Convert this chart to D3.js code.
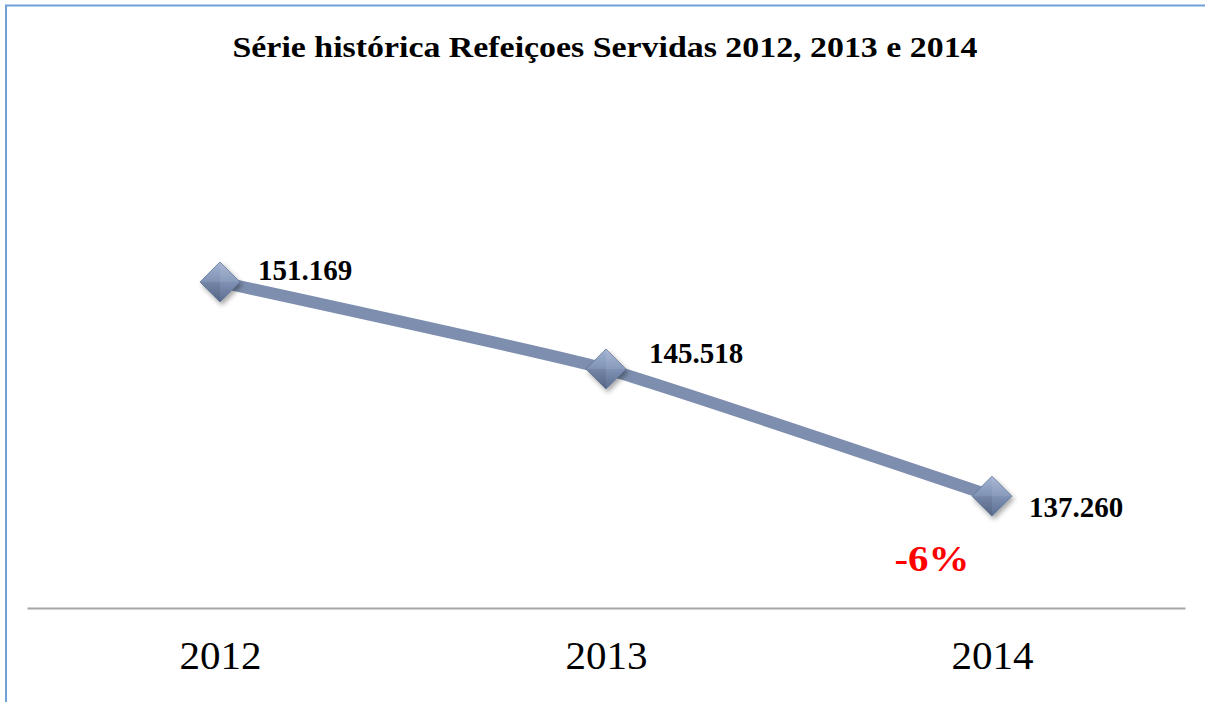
<!DOCTYPE html>
<html>
<head>
<meta charset="utf-8">
<script src="https://cdn.jsdelivr.net/npm/d3@7"></script>
<style>
  body { margin: 0; background: #fff; }
  svg { display: block; }
</style>
</head>
<body>
<div id="chart"></div>
<script>
var width = 1205
var height = 702
var padding = {top:223, bottom:94, left:27, right:20}

var years = ["2012", "2013", "2014"]
var meals = [151169, 145518, 137260]
var valueLabels = ["151.169", "145.518", "137.260"]
var changeLabel = "-6%"
var titleText = "Série histórica Refeiçoes Servidas 2012, 2013 e 2014"

// label offsets from each point (Excel placed them a bit irregularly)
var labelOffsets = [[38,-12],[43,-16],[37,11]]

var svg = d3.select('#chart')
      .append('svg')
      .attr('width',width)
      .attr('height',height);

var defs = svg.append('defs')

var grad = defs.append('linearGradient')
      .attr('id','diamondGrad')
      .attr('x1','0').attr('y1','0').attr('x2','0').attr('y2','1')
grad.append('stop').attr('offset','0%').attr('stop-color','#a3b4d3')
grad.append('stop').attr('offset','50%').attr('stop-color','#7f92b5')
grad.append('stop').attr('offset','100%').attr('stop-color','#5b6d8f')

var shadow = defs.append('filter').attr('id','shadow')
      .attr('x','-50%').attr('y','-50%').attr('width','200%').attr('height','200%')
shadow.append('feDropShadow')
      .attr('dx',2).attr('dy',3).attr('stdDeviation',2.5)
      .attr('flood-color','#000').attr('flood-opacity',0.35)

// frame (only top and left edges show)
svg.append('line')
  .attr('x1',5).attr('x2',width).attr('y1',5.5).attr('y2',5.5)
  .attr('stroke','#6fa0d8').attr('stroke-width',2)
svg.append('line')
  .attr('x1',6).attr('x2',6).attr('y1',5).attr('y2',height)
  .attr('stroke','#6fa0d8').attr('stroke-width',2)

// title (the original is stretched a little sideways)
svg.append('text')
  .attr('x',605).attr('y',57)
  .attr('text-anchor','middle')
  .attr('textLength',745)
  .attr('lengthAdjust','spacingAndGlyphs')
  .style('font-family','"Liberation Serif", "Times New Roman", serif')
  .style('font-weight','bold')
  .style('font-size','29px')
  .text(titleText)

var x = d3.scalePoint().domain(years)
      .range([padding.left, width-padding.right]).padding(0.5)
var y = d3.scaleLinear().domain([130000,155000])
      .range([height-padding.bottom, padding.top])

// x axis
var xAxis = d3.axisBottom(x).tickSize(0).tickPadding(32)
var axisG = svg.append('g')
  .attr('transform','translate(0,' + (height-padding.bottom) + ')')
  .call(xAxis)
axisG.select('.domain').attr('stroke','#a6a6a6').attr('stroke-width',2)
axisG.selectAll('text')
  .style('font-family','"Liberation Serif", "Times New Roman", serif')
  .style('font-size','41px')
  .attr('fill','#000')

var data = years.map(function(d,i){ return {year:d, value:meals[i], label:valueLabels[i], off:labelOffsets[i]} })

var line = d3.line()
  .x(function(d){ return x(d.year) })
  .y(function(d){ return y(d.value) })
  .curve(d3.curveCardinal.tension(0.6))

svg.append('path')
  .datum(data)
  .attr('d',line)
  .attr('fill','none')
  .attr('stroke','#7d8eaf')
  .attr('stroke-width',12)
  .attr('stroke-linejoin','round')

var markers = svg.selectAll('.marker')
  .data(data)
  .enter()
  .append('g')
  .attr('class','marker')
  .attr('transform',function(d){ return 'translate(' + x(d.year) + ',' + y(d.value) + ')' })

var r = 20
markers.append('path')
  .attr('d','M0,' + (-r) + 'L' + r + ',0L0,' + r + 'L' + (-r) + ',0Z')
  .attr('fill','url(#diamondGrad)')
  .attr('stroke','#66789a')
  .attr('stroke-width',0.8)
  .attr('filter','url(#shadow)')
// bevel facets
markers.append('path')
  .attr('d','M0,' + (-r) + 'L' + r + ',0L0,0Z')
  .attr('fill','#ffffff').attr('opacity',0.08)
markers.append('path')
  .attr('d','M0,' + r + 'L' + (-r) + ',0L0,0Z')
  .attr('fill','#000000').attr('opacity',0.08)

svg.selectAll('.vlabel')
  .data(data)
  .enter()
  .append('text')
  .attr('class','vlabel')
  .attr('x',function(d){ return x(d.year) + d.off[0] })
  .attr('y',function(d){ return y(d.value) + d.off[1] })
  .attr('dy','0.35em')
  .style('font-family','"Liberation Serif", "Times New Roman", serif')
  .style('font-weight','bold')
  .style('font-size','29px')
  .text(function(d){ return d.label })

svg.append('text')
  .attr('x',x(years[2]) - 60)
  .attr('y',y(meals[2]) + 75)
  .attr('text-anchor','middle')
  .attr('textLength',75)
  .attr('lengthAdjust','spacingAndGlyphs')
  .attr('fill','#ff0000')
  .style('font-family','"Liberation Serif", "Times New Roman", serif')
  .style('font-weight','bold')
  .style('font-size','36px')
  .text(changeLabel)
</script>
</body>
</html>
